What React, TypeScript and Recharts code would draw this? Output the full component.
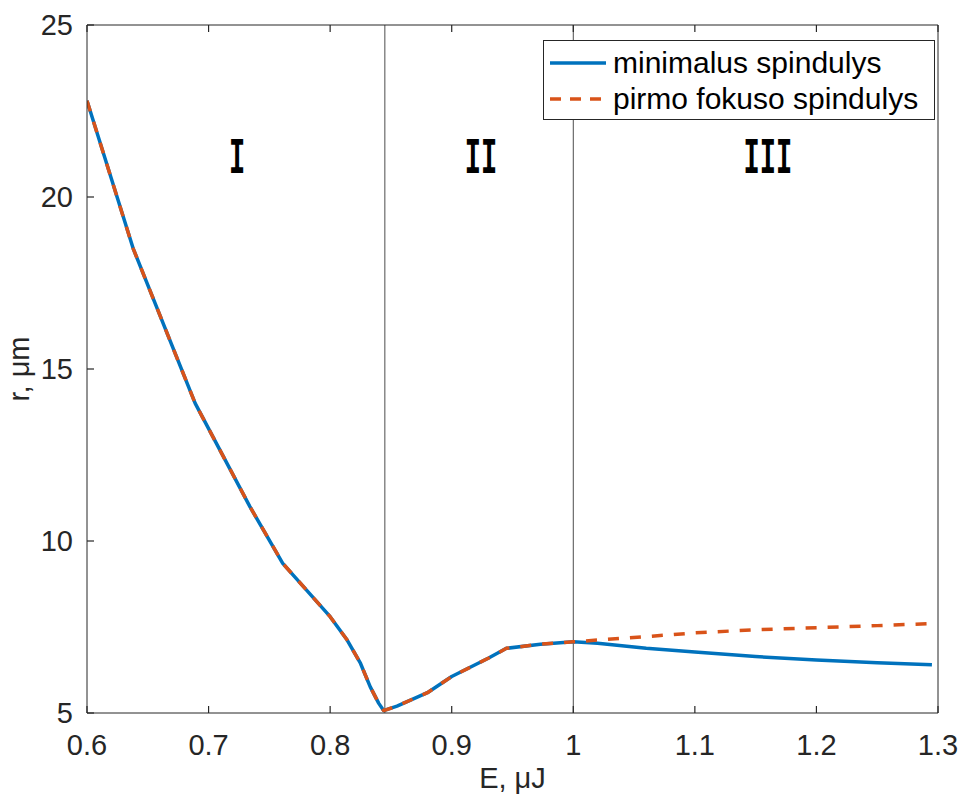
import { LineChart, Line, XAxis, YAxis, ReferenceLine, ReferenceDot, Legend } from 'recharts';

// pulse energy, µJ
const energy = [
  0.6, 0.638, 0.689, 0.734, 0.761, 0.8, 0.814, 0.825, 0.833, 0.84, 0.844,
  0.855, 0.88, 0.9, 0.93, 0.945, 0.973, 1.0,
  1.02, 1.06, 1.1, 1.15, 1.2, 1.25, 1.295,
];
// minimal beam radius, µm
const minRadius = [
  22.8, 18.5, 14.0, 11.0, 9.35, 7.8, 7.12, 6.44, 5.76, 5.28, 5.07,
  5.2, 5.59, 6.06, 6.59, 6.88, 7.0, 7.07,
  7.03, 6.88, 6.77, 6.64, 6.54, 6.46, 6.4,
];
// radius at the first focus, µm
const focusRadius = [
  22.8, 18.5, 14.0, 11.0, 9.35, 7.8, 7.12, 6.44, 5.76, 5.28, 5.07,
  5.2, 5.59, 6.06, 6.59, 6.88, 7.0, 7.07,
  7.12, 7.22, 7.33, 7.42, 7.48, 7.54, 7.6,
];

const xTicks = [0.6, 0.7, 0.8, 0.9, 1.0, 1.1, 1.2, 1.3];
const yTicks = [5, 10, 15, 20, 25];

// regime borders and region names
const boundaries = [0.845, 1.0];
const regionNames = ['I', 'II', 'III'];
const regionCenters = [0.7235, 0.924, 1.16];
const regionLabelR = 21.15;

const series = [
  { key: 'minR', name: 'minimalus spindulys', color: '#0072BD', dash: undefined as string | undefined },
  { key: 'focusR', name: 'pirmo fokuso spindulys', color: '#D95319', dash: '11 11' },
];

const data = energy.map((e, i) => ({ E: e, minR: minRadius[i], focusR: focusRadius[i] }));

const FONT = '"Liberation Sans", Arial, sans-serif';
const AXIS = '#262626';
const TICK_LEN = 7;

// ticks point inward, matlab style
const BottomTick = ({ x, y, payload }: any) => (
  <g>
    <line x1={x} y1={y} x2={x} y2={y - TICK_LEN} stroke={AXIS} strokeWidth={1.2} />
    <text x={x} y={y + 21} dy="0.71em" textAnchor="middle" fontFamily={FONT} fontSize={29} fill={AXIS}>
      {String(payload.value)}
    </text>
  </g>
);
const LeftTick = ({ x, y, payload }: any) => (
  <g>
    <line x1={x} y1={y} x2={x + TICK_LEN} y2={y} stroke={AXIS} strokeWidth={1.2} />
    <text x={x - 14} y={y} dy="0.355em" textAnchor="end" fontFamily={FONT} fontSize={29} fill={AXIS}>
      {String(payload.value)}
    </text>
  </g>
);
const TopTick = ({ x, y }: any) => <line x1={x} y1={y} x2={x} y2={y + TICK_LEN} stroke={AXIS} strokeWidth={1.2} />;
const RightTick = ({ x, y }: any) => <line x1={x} y1={y} x2={x - TICK_LEN} y2={y} stroke={AXIS} strokeWidth={1.2} />;

function LegendBox() {
  return (
    <div
      style={{
        border: '1px solid #262626',
        background: '#fff',
        width: 392,
        height: 80,
        boxSizing: 'border-box',
        padding: '4px 0 0 5px',
        fontFamily: FONT,
        fontSize: 30,
        color: '#000',
      }}
    >
      {series.map((s) => (
        <div key={s.key} style={{ display: 'flex', alignItems: 'center', height: 36 }}>
          <svg width={58} height={10} style={{ marginRight: 6 }}>
            <line x1={1} y1={5} x2={57} y2={5} stroke={s.color} strokeWidth={3.5} strokeDasharray={s.dash ? '11 9' : undefined} />
          </svg>
          <span style={{ lineHeight: '36px' }}>{s.name}</span>
        </div>
      ))}
    </div>
  );
}

function RegionLabel(props: any) {
  const vb = props.viewBox || {};
  const cx = vb.x + (vb.width || 0) / 2;
  const cy = vb.y + (vb.height || 0) / 2;
  return (
    <text
      transform={`translate(${cx},${cy}) scale(0.9,1.75)`}
      x={0}
      y={0}
      dy="0.3em"
      textAnchor="middle"
      fontFamily='"Liberation Mono", "DejaVu Sans Mono", monospace'
      fontWeight="bold"
      fontSize={30}
      fill="#000"
    >
      {props.text}
    </text>
  );
}

export default function App() {
  return (
    <div style={{ position: 'absolute', left: 0, top: 0, background: '#fff' }}>
      <LineChart width={965} height={800} data={data} margin={{ top: 24, right: 26, left: 0, bottom: 0 }}>
        <XAxis
          dataKey="E"
          type="number"
          domain={[0.6, 1.3]}
          ticks={xTicks}
          height={87}
          stroke={AXIS}
          tickLine={false}
          tickSize={0}
          tickMargin={0}
          tick={<BottomTick />}
          allowDataOverflow
          label={{
            content: ({ viewBox }: any) => (
              <text x={viewBox.x + viewBox.width / 2} y={788} textAnchor="middle" fontFamily={FONT} fontSize={29} fill={AXIS}>
                E, μJ
              </text>
            ),
          }}
        />
        <XAxis
          xAxisId="top"
          orientation="top"
          dataKey="E"
          type="number"
          domain={[0.6, 1.3]}
          ticks={xTicks}
          height={1}
          stroke={AXIS}
          tickLine={false}
          tickSize={0}
          tickMargin={0}
          tick={<TopTick />}
        />
        <YAxis
          type="number"
          domain={[5, 25]}
          ticks={yTicks}
          width={87}
          stroke={AXIS}
          tickLine={false}
          tickSize={0}
          tickMargin={0}
          tick={<LeftTick />}
          allowDataOverflow
          label={{
            content: ({ viewBox }: any) => (
              <text
                transform={`translate(${viewBox.x + 19},${viewBox.y + viewBox.height / 2}) rotate(-90)`}
                dy="0.35em"
                textAnchor="middle"
                fontFamily={FONT}
                fontSize={29}
                fill={AXIS}
              >
                r, μm
              </text>
            ),
          }}
        />
        <YAxis
          yAxisId="right"
          orientation="right"
          type="number"
          domain={[5, 25]}
          ticks={yTicks}
          width={1}
          stroke={AXIS}
          tickLine={false}
          tickSize={0}
          tickMargin={0}
          tick={<RightTick />}
        />
        {boundaries.map((b) => (
          <ReferenceLine key={b} x={b} stroke="#4d4d4d" strokeWidth={1} />
        ))}
        {regionNames.map((name, i) => (
          <ReferenceDot
            key={name}
            x={regionCenters[i]}
            y={regionLabelR}
            r={2}
            fill="none"
            stroke="none"
            label={{ content: (p: any) => <RegionLabel {...p} text={name} /> }}
          />
        ))}
        {series.map((s) => (
          <Line
            key={s.key}
            type="linear"
            dataKey={s.key}
            name={s.name}
            stroke={s.color}
            strokeWidth={3.5}
            strokeDasharray={s.dash}
            strokeLinejoin="round"
            dot={false}
            activeDot={false}
            isAnimationActive={false}
          />
        ))}
        <Legend
          layout="horizontal"
          verticalAlign="middle"
          align="center"
          wrapperStyle={{ position: 'absolute', left: 543, top: 40, width: 392, height: 80 }}
          content={() => <LegendBox />}
        />
      </LineChart>
    </div>
  );
}
